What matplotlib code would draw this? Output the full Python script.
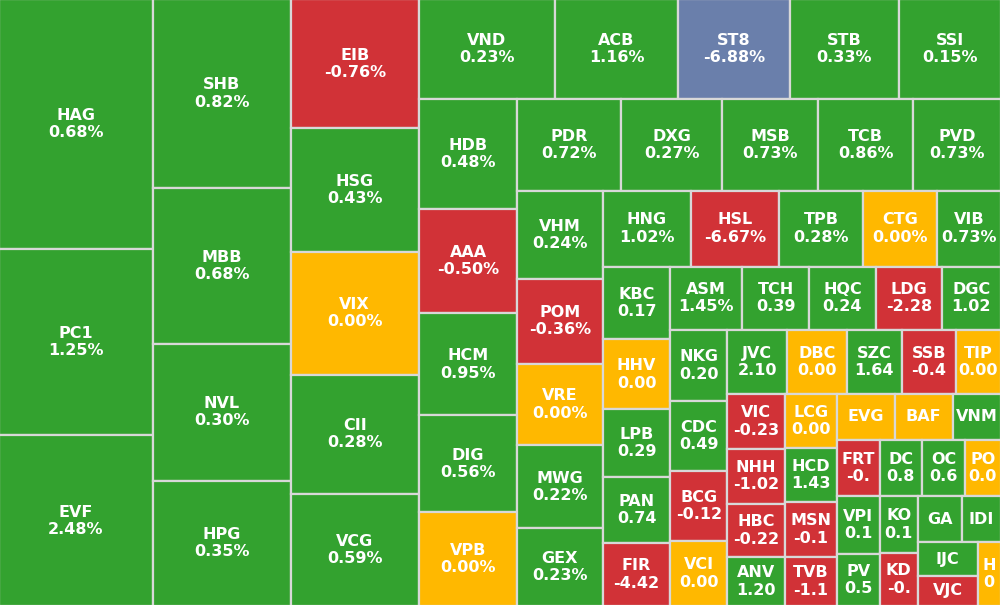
import matplotlib
matplotlib.use("Agg")
import matplotlib.pyplot as plt
from matplotlib.patches import Rectangle

# cells in treemap order (largest first), as shown on the picture
tickers = ["HAG", "PC1", "EVF",
           "SHB", "MBB", "NVL", "HPG",
           "EIB", "HSG", "VIX", "CII", "VCG",
           "VND", "ACB", "ST8", "STB", "SSI",
           "HDB", "AAA", "HCM", "DIG", "VPB",
           "PDR", "DXG", "MSB", "TCB", "PVD",
           "VHM", "POM", "VRE", "MWG", "GEX",
           "HNG", "HSL", "TPB", "CTG", "VIB",
           "KBC", "HHV", "LPB", "PAN", "FIR",
           "ASM", "TCH", "HQC", "LDG", "DGC",
           "NKG", "CDC", "BCG", "VCI",
           "JVC", "DBC", "SZC", "SSB", "TIP",
           "VIC", "NHH", "HBC", "ANV",
           "LCG", "HCD", "MSN", "TVB",
           "EVG", "BAF", "VNM",
           "FRT", "DC", "OC", "PO",
           "VPI", "PV",
           "KO", "KD",
           "GA", "IDI",
           "IJC", "VJC",
           "H"]

changes = ["0.68%", "1.25%", "2.48%",
           "0.82%", "0.68%", "0.30%", "0.35%",
           "-0.76%", "0.43%", "0.00%", "0.28%", "0.59%",
           "0.23%", "1.16%", "-6.88%", "0.33%", "0.15%",
           "0.48%", "-0.50%", "0.95%", "0.56%", "0.00%",
           "0.72%", "0.27%", "0.73%", "0.86%", "0.73%",
           "0.24%", "-0.36%", "0.00%", "0.22%", "0.23%",
           "1.02%", "-6.67%", "0.28%", "0.00%", "0.73%",
           "0.17", "0.00", "0.29", "0.74", "-4.42",
           "1.45%", "0.39", "0.24", "-2.28", "1.02",
           "0.20", "0.49", "-0.12", "0.00",
           "2.10", "0.00", "1.64", "-0.4", "0.00",
           "-0.23", "-1.02", "-0.22", "1.20",
           "0.00", "1.43", "-0.1", "-1.1",
           "", "", "",
           "-0.", "0.8", "0.6", "0.0",
           "0.1", "0.5",
           "0.1", "-0.",
           "", "",
           "", "",
           "0"]

# u = up, d = down, r = reference (unchanged), f = floor
status = ["u", "u", "u",
          "u", "u", "u", "u",
          "d", "u", "r", "u", "u",
          "u", "u", "f", "u", "u",
          "u", "d", "u", "u", "r",
          "u", "u", "u", "u", "u",
          "u", "d", "r", "u", "u",
          "u", "d", "u", "r", "u",
          "u", "r", "u", "u", "d",
          "u", "u", "u", "d", "u",
          "u", "u", "d", "r",
          "u", "r", "u", "d", "r",
          "d", "d", "d", "u",
          "r", "u", "d", "d",
          "r", "r", "u",
          "d", "u", "u", "r",
          "u", "u",
          "u", "d",
          "u", "u",
          "u", "d",
          "r"]

sizes = [38222, 28551, 26095,
         25919, 21313, 18769, 17188,
         16512, 15744, 15680, 15168, 14336,
         13532, 12189, 11094, 10895, 10099,
         10731, 10221, 9967, 9477, 9143,
         9489, 9242, 8747, 8693, 8025,
         7506, 7191, 6969, 7020, 6628,
         6692, 6631, 6359, 5579, 4845,
         4915, 4719, 4536, 4489, 4245,
         4496, 4176, 4182, 4119, 3718,
         4028, 3955, 3915, 3673,
         3846, 3801, 3526, 3461, 2885,
         3162, 3145, 3098, 2798,
         2808, 2798, 2855, 2538,
         2621, 2639, 2193,
         2401, 2401, 2407, 2045,
         2431, 2223,
         2136, 2025,
         2020, 1772,
         2005, 1785,
         1484]

# squarified strips: number of cells per strip and strip direction
strip_counts = [3, 4, 5, 5, 5, 5, 5, 5, 5, 5, 4, 5, 4, 4, 3, 4, 2, 2, 2, 2, 1]
strip_dirs = "vvvhvhvhvhvhvvhhvvhvv"

colors = {"u": "#33a22f", "d": "#d13237", "r": "#ffb800", "f": "#6a7fab"}

W, H = 1000.0, 605.0


def strip_layout(vals, counts, dirs, x0, y0, w, h):
    scale = w * h / sum(vals)
    vals = [v * scale for v in vals]
    rects = []
    i = 0
    for n, d in zip(counts, dirs):
        part = vals[i:i + n]
        i += n
        s = sum(part)
        if d == "v":
            sw = s / h
            y = y0
            for v in part:
                ch = v / sw
                rects.append((x0, y, sw, ch))
                y += ch
            x0 += sw
            w -= sw
        else:
            sh = s / w
            x = x0
            for v in part:
                cw = v / sh
                rects.append((x, y0, cw, sh))
                x += cw
            y0 += sh
            h -= sh
    return rects


rects = strip_layout(sizes, strip_counts, strip_dirs, 0, 0, W, H)

fig = plt.figure(figsize=(10, 6.05), dpi=100)
ax = fig.add_axes([0, 0, 1, 1])
# outer border falls just outside the view, like the cropped original
ax.set_xlim(1, W - 1)
ax.set_ylim(H - 1, 1)
ax.axis("off")

renderer = fig.canvas.get_renderer()

for (x, y, w, h), t, c, s in zip(rects, tickers, changes, status):
    r = Rectangle((x, y), w, h, facecolor=colors[s], edgecolor="#d8d8d8", linewidth=1.6)
    ax.add_patch(r)
    label = t if c == "" else t + "\n" + c
    txt = ax.text(x + w / 2, y + h / 2, label, ha="center", va="center",
                  multialignment="center", color="white", fontsize=11.5,
                  fontweight="bold", family="DejaVu Sans", linespacing=1.2)
    txt.set_clip_path(r)
    tw = txt.get_window_extent(renderer).width
    if tw > w - 2:
        txt.set_position((x + 2, y + h / 2))
        txt.set_ha("left")

fig.savefig("out.png", dpi=100)
